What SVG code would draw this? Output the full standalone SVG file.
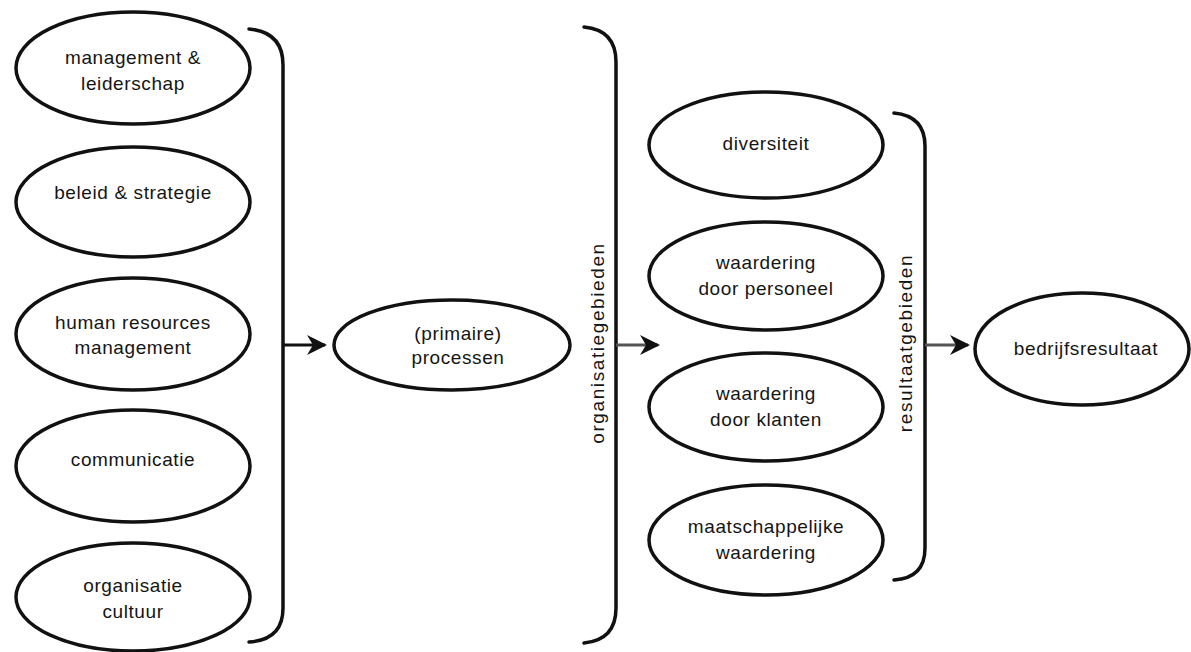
<svg xmlns="http://www.w3.org/2000/svg" width="1191" height="652" viewBox="0 0 1191 652">
<style>
  .node ellipse { fill: #ffffff; stroke: #111111; stroke-width: 3.5; }
  .node text { font-family: "Liberation Sans", Arial, sans-serif; font-size: 19px; letter-spacing: 0.6px; fill: #151515; text-anchor: middle; }
  .bracket { fill: none; stroke: #111111; stroke-width: 3.5; stroke-linecap: round; }
  .vlabel { font-family: "Liberation Sans", Arial, sans-serif; font-size: 19px; letter-spacing: 1.6px; fill: #151515; text-anchor: middle; }
  .conn { stroke-width: 3; fill: none; }
</style>
<defs>
  <marker id="head" viewBox="0 0 20 20" refX="18" refY="10" markerWidth="20" markerHeight="20" markerUnits="userSpaceOnUse" orient="auto">
    <path d="M0,0 L20,10 L0,20 L6,10 Z" fill="#111111"/>
  </marker>
</defs>
<rect width="1191" height="652" fill="#ffffff"/>

<g id="n-management" class="node">
  <ellipse cx="133" cy="68" rx="117" ry="56"/>
  <text x="133" y="64">management &amp;</text>
  <text x="133" y="90">leiderschap</text>
</g>
<g id="n-beleid" class="node">
  <ellipse cx="133" cy="202" rx="117" ry="55"/>
  <text x="133" y="199">beleid &amp; strategie</text>
</g>
<g id="n-hrm" class="node">
  <ellipse cx="133" cy="334" rx="117" ry="56"/>
  <text x="133" y="329">human resources</text>
  <text x="133" y="354">management</text>
</g>
<g id="n-communicatie" class="node">
  <ellipse cx="133" cy="466" rx="117" ry="56"/>
  <text x="133" y="466">communicatie</text>
</g>
<g id="n-cultuur" class="node">
  <ellipse cx="133" cy="597" rx="117" ry="54"/>
  <text x="133" y="592">organisatie</text>
  <text x="133" y="618">cultuur</text>
</g>

<g id="n-processen" class="node">
  <ellipse cx="452" cy="345" rx="118" ry="45"/>
  <text x="458" y="340">(primaire)</text>
  <text x="458" y="364">processen</text>
</g>

<g id="n-diversiteit" class="node">
  <ellipse cx="766" cy="145" rx="117" ry="53"/>
  <text x="766" y="150">diversiteit</text>
</g>
<g id="n-personeel" class="node">
  <ellipse cx="766" cy="276" rx="117" ry="54"/>
  <text x="766" y="269">waardering</text>
  <text x="766" y="295">door personeel</text>
</g>
<g id="n-klanten" class="node">
  <ellipse cx="766" cy="407" rx="117" ry="54"/>
  <text x="766" y="400">waardering</text>
  <text x="766" y="426">door klanten</text>
</g>
<g id="n-maatschappelijk" class="node">
  <ellipse cx="766" cy="540" rx="117" ry="55"/>
  <text x="766" y="533">maatschappelijke</text>
  <text x="766" y="559">waardering</text>
</g>

<g id="n-bedrijfsresultaat" class="node">
  <ellipse cx="1082" cy="349" rx="107" ry="56"/>
  <text x="1086" y="355">bedrijfsresultaat</text>
</g>

<g id="connectors">
  <path class="bracket" d="M249,29 Q283,32 283,65 L283,608 Q283,640 249,642"/>
  <path class="bracket" d="M584,27 Q616,30 616,62 L616,608 Q616,640 584,643"/>
  <path class="bracket" d="M894,113 Q925,116 925,146 L925,548 Q925,578 894,580"/>
  <text class="vlabel" transform="translate(604,343) rotate(-90)">organisatiegebieden</text>
  <text class="vlabel" transform="translate(912,343) rotate(-90)">resultaatgebieden</text>
  <line class="conn" x1="283" y1="345" x2="325" y2="345" stroke="#111111" marker-end="url(#head)"/>
  <line class="conn" x1="616" y1="345" x2="658" y2="345" stroke="#555555" marker-end="url(#head)"/>
  <line class="conn" x1="925" y1="345" x2="968" y2="345" stroke="#555555" marker-end="url(#head)"/>
</g>
</svg>
